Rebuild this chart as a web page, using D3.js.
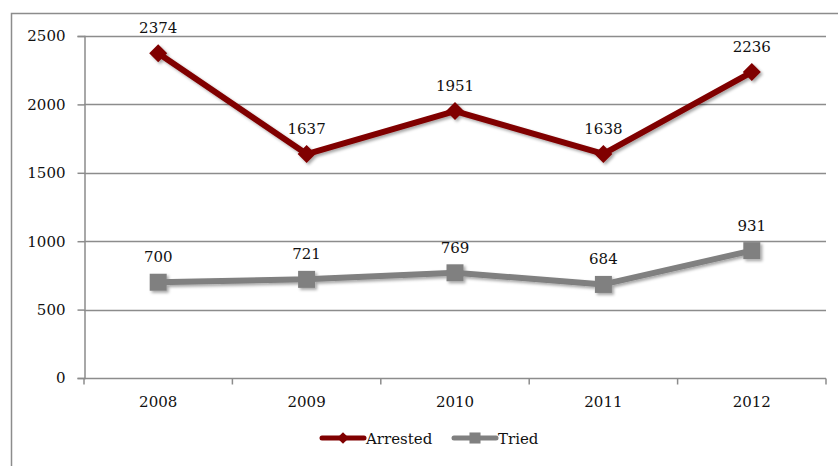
<!DOCTYPE html>
<html>
<head>
<meta charset="utf-8">
<script src="https://cdn.jsdelivr.net/npm/d3@7/dist/d3.min.js"></script>
<style>
  html, body { margin: 0; padding: 0; background: #fff; }
  svg { display: block; }
  text { font-family: "DejaVu Serif", serif; fill: #111; }
</style>
</head>
<body>
<svg id="chart" width="838" height="466"></svg>
<script>
// Yearly counts
const years = ["2008", "2009", "2010", "2011", "2012"];
const arrested = [2374, 1637, 1951, 1638, 2236];
const tried = [700, 721, 769, 684, 931];
const yTicks = [0, 500, 1000, 1500, 2000, 2500];

const series = [
  { name: "Arrested", values: arrested, color: "#800000", marker: "diamond" },
  { name: "Tried", values: tried, color: "#808080", marker: "square" }
];

const svg = d3.select("#chart");
const margin = { left: 84, right: 826, top: 36, bottom: 378 };

// Outer frame of the chart area
svg.append("rect")
  .attr("x", 11.5).attr("y", 13.5)
  .attr("width", 900).attr("height", 600)
  .attr("fill", "none").attr("stroke", "#8c8c8c").attr("stroke-width", 1.5);

const x = d3.scaleBand().domain(years).range([margin.left, margin.right]);
const y = d3.scaleLinear().domain([0, 2500]).range([margin.bottom, margin.top]);

// Soft drop shadow under lines and markers
const defs = svg.append("defs");
const f = defs.append("filter").attr("id", "shadow")
  .attr("x", "-20%").attr("y", "-20%").attr("width", "140%").attr("height", "140%");
f.append("feDropShadow").attr("dx", 2).attr("dy", 2).attr("stdDeviation", 1.5)
  .attr("flood-color", "#000").attr("flood-opacity", 0.35);

// Horizontal gridlines
svg.append("g").selectAll("line").data(yTicks.filter(d => d > 0)).join("line")
  .attr("x1", margin.left).attr("x2", margin.right)
  .attr("y1", d => Math.round(y(d)) + 0.5).attr("y2", d => Math.round(y(d)) + 0.5)
  .attr("stroke", "#8c8c8c").attr("stroke-width", 1.5);

// Y axis
const yAxis = svg.append("g")
  .attr("transform", `translate(${margin.left + 0.5},0)`)
  .call(d3.axisLeft(y).tickValues(yTicks).tickSize(7).tickPadding(12).tickFormat(d3.format("d")));
yAxis.select(".domain").attr("stroke", "#8c8c8c").attr("stroke-width", 1.5);
yAxis.selectAll(".tick line").attr("stroke", "#8c8c8c").attr("stroke-width", 1.5);
yAxis.selectAll("text").attr("font-size", 15).attr("font-family", "DejaVu Serif").attr("fill", "#111");

// X axis with ticks between categories
const xg = svg.append("g").attr("transform", `translate(0,${margin.bottom + 0.5})`);
xg.append("line").attr("x1", margin.left).attr("x2", margin.right)
  .attr("stroke", "#8c8c8c").attr("stroke-width", 1.5);
const bounds = years.map(d => x(d)).concat([margin.right]);
xg.selectAll("line.tk").data(bounds).join("line").attr("class", "tk")
  .attr("x1", d => d).attr("x2", d => d).attr("y1", 0).attr("y2", 6)
  .attr("stroke", "#8c8c8c").attr("stroke-width", 1.5);
xg.selectAll("text").data(years).join("text")
  .attr("x", d => x(d) + x.bandwidth() / 2).attr("y", 28)
  .attr("text-anchor", "middle").attr("font-size", 15).text(d => d);

const cx = d => x(d) + x.bandwidth() / 2;

function drawMarker(g, type, color, px, py, scale) {
  if (type === "diamond") {
    const s = 9 * scale;
    g.append("path")
      .attr("d", `M${px},${py - s}L${px + s},${py}L${px},${py + s}L${px - s},${py}Z`)
      .attr("fill", color);
  } else {
    const s = 8.5 * scale;
    g.append("rect").attr("x", px - s).attr("y", py - s)
      .attr("width", 2 * s).attr("height", 2 * s).attr("fill", color);
  }
}

const line = d3.line().x((d, i) => cx(years[i])).y(d => y(d));

series.forEach(s => {
  const g = svg.append("g").attr("filter", "url(#shadow)");
  g.append("path").datum(s.values)
    .attr("d", line).attr("fill", "none")
    .attr("stroke", s.color).attr("stroke-width", 6).attr("stroke-linejoin", "round");
  s.values.forEach((v, i) => drawMarker(g, s.marker, s.color, cx(years[i]), y(v), 1));
  svg.append("g").selectAll("text").data(s.values).join("text")
    .attr("x", (d, i) => cx(years[i])).attr("y", d => y(d) - 20)
    .attr("text-anchor", "middle").attr("font-size", 15).text(d => d);
});

// Legend
const legend = svg.append("g");
const items = [
  { s: series[0], x0: 322 },
  { s: series[1], x0: 454 }
];
items.forEach(it => {
  const ly = 438;
  legend.append("line").attr("x1", it.x0).attr("x2", it.x0 + 42)
    .attr("y1", ly).attr("y2", ly).attr("stroke", it.s.color)
    .attr("stroke-width", 5).attr("stroke-linecap", "round");
  drawMarker(legend, it.s.marker, it.s.color, it.x0 + 21, ly, 0.65);
  legend.append("text").attr("x", it.x0 + 44).attr("y", ly + 6)
    .attr("font-size", 15).text(it.s.name);
});
</script>
</body>
</html>
